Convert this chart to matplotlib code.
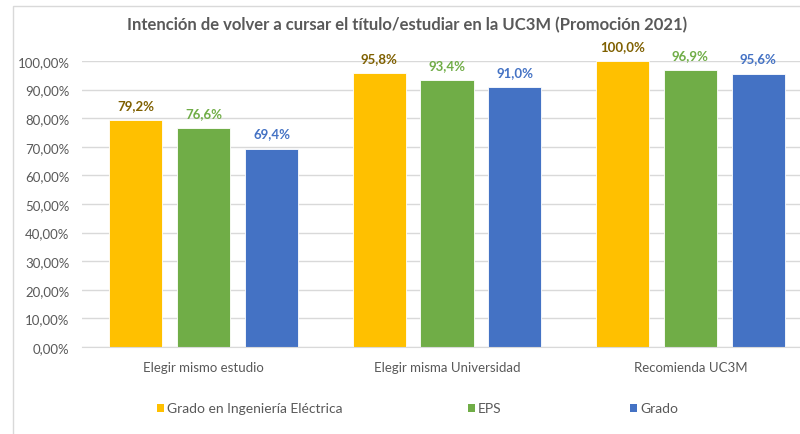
import matplotlib.pyplot as plt
from matplotlib.patches import Rectangle
import numpy as np

plt.rcParams['font.family'] = ['Lato', 'DejaVu Sans']

categories = ['Elegir mismo estudio', 'Elegir misma Universidad', 'Recomienda UC3M']
series_names = ['Grado en Ingeniería Eléctrica', 'EPS', 'Grado']
grado_ie = [79.2, 95.8, 100.0]
eps = [76.6, 93.4, 96.9]
grado = [69.4, 91.0, 95.6]
yticks = [0, 10, 20, 30, 40, 50, 60, 70, 80, 90, 100]

bar_colors = ['#FFC000', '#70AD47', '#4472C4']
label_colors = ['#7F6000', '#70AD47', '#4472C4']
text_gray = '#595959'

fig = plt.figure(figsize=(8, 4.35), dpi=100)
fig.patches.append(Rectangle((13 / 800, -0.1), 1.2, (435 - 7) / 435 + 0.1,
                             transform=fig.transFigure, fill=False,
                             edgecolor='#D9D9D9', linewidth=1))

ax = fig.add_axes([82 / 800, 87 / 435, 730 / 800, 286 / 435])
x = np.arange(len(categories))
width = 0.218
step = 0.279
for i, vals in enumerate([grado_ie, eps, grado]):
    pos = x + (i - 1) * step
    ax.bar(pos, vals, width, color=bar_colors[i], edgecolor='white',
           linewidth=0.6, zorder=2, label=series_names[i])
    for px, v in zip(pos, vals):
        ax.text(px, v + 3.2, f'{v:.1f}%'.replace('.', ','), ha='center',
                va='bottom', fontsize=9.5, fontweight='bold', color=label_colors[i])

ax.set_xlim(-0.5, 2.5)
ax.set_ylim(0, 100)
ax.set_yticks(yticks)
ax.set_yticklabels([f'{t:.2f}%'.replace('.', ',') for t in yticks])
ax.set_xticks(x)
ax.set_xticklabels(categories)
ax.tick_params(axis='both', length=0, labelsize=9.5, colors=text_gray)
ax.tick_params(axis='x', pad=10)
ax.tick_params(axis='y', pad=9)
ax.grid(axis='y', color='#D9D9D9', linewidth=1, zorder=0)
for s in ['top', 'right', 'left']:
    ax.spines[s].set_visible(False)
ax.spines['bottom'].set_color('#D9D9D9')

fig.text(407 / 800, 1 - 25 / 435, 'Intención de volver a cursar el título/estudiar en la UC3M (Promoción 2021)',
         ha='center', va='center', fontsize=12, fontweight='bold', color=text_gray)

# legend
leg_x = [157, 468, 630]
for lx, name, c in zip(leg_x, series_names, bar_colors):
    fig.patches.append(Rectangle((lx / 800, 1 - 413 / 435), 7 / 800, 8 / 435,
                                 transform=fig.transFigure, facecolor=c, edgecolor='none'))
    fig.text((lx + 10) / 800, 1 - 409 / 435, name, ha='left', va='center',
             fontsize=10, color=text_gray)

fig.savefig('out.png', dpi=100, facecolor='white')
